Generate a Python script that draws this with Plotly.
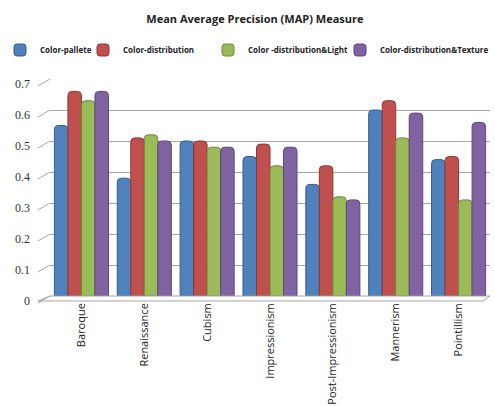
import plotly.graph_objects as go

categories = ["Baroque", "Renaissance", "Cubism", "Impressionism",
              "Post-Impressionism", "Mannerism", "Pointillism"]
color_pallete = [0.55, 0.38, 0.50, 0.45, 0.36, 0.60, 0.44]
color_distribution = [0.66, 0.51, 0.50, 0.49, 0.42, 0.63, 0.45]
color_dist_light = [0.63, 0.52, 0.48, 0.42, 0.32, 0.51, 0.31]
color_dist_texture = [0.66, 0.50, 0.48, 0.48, 0.31, 0.59, 0.56]
y_ticks = [0, 0.1, 0.2, 0.3, 0.4, 0.5, 0.6, 0.7]

series = [
    ("Color-pallete", color_pallete, "#4F81BD", "#385D8A"),
    ("Color-distribution", color_distribution, "#C0504D", "#8C3836"),
    ("Color -distribution&Light", color_dist_light, "#9BBB59", "#71893F"),
    ("Color-distribution&Texture", color_dist_texture, "#8064A2", "#5C4776"),
]
legend_ids = ["legend", "legend2", "legend3", "legend4"]
legend_x = [-14, 83, 208, 340]  # left edge of each legend entry, px

W, H = 495, 406
fig = go.Figure()
for (name, vals, col, edge), lid in zip(series, legend_ids):
    fig.add_trace(go.Bar(
        name=name, x=categories, y=vals, legend=lid,
        marker=dict(color=col, line=dict(color=edge, width=1), cornerradius=4),
    ))

legend_style = dict(orientation="h", xref="container", yref="container",
                    xanchor="left", yanchor="middle",
                    font=dict(family="Open Sans", size=8, color="#222", weight="bold"),
                    itemwidth=30, bgcolor="rgba(0,0,0,0)")
legends = {}
for lid, lx in zip(legend_ids, legend_x):
    legends[lid] = dict(legend_style, x=lx / W, y=1 - 50 / H)

ymax = 0.7
plot_h = 217.3
# slanted wall edges joining each tick label to its gridline
shapes = []
for v in y_ticks:
    yb = v / ymax
    shapes.append(dict(type="line", xref="paper", yref="paper",
                       x0=-12 / 440, y0=yb - 7 / plot_h, x1=0, y1=yb,
                       line=dict(color="#A6A6A6", width=1)))
# floor of the chart
shapes.append(dict(type="path", xref="paper", yref="paper",
                   path=f"M {-12/440},{-5/plot_h} L {433/440},{-5/plot_h} L 1,0 L 0,0 Z",
                   fillcolor="rgba(0,0,0,0)",
                   line=dict(color="#A6A6A6", width=1)))

fig.update_layout(
    width=W, height=H,
    margin=dict(l=50, r=5, t=79, b=109.7, autoexpand=False),
    paper_bgcolor="white", plot_bgcolor="white",
    barmode="group", bargap=0.14, bargroupgap=0,
    title=dict(text="<b>Mean Average Precision (MAP) Measure</b>",
               x=0.515, xanchor="center", y=1 - 19 / H, yanchor="middle",
               font=dict(family="Open Sans", size=11, color="#222")),
    shapes=shapes,
    showlegend=True,
    **legends,
)
fig.update_yaxes(range=[0, ymax], tickvals=y_ticks,
                 ticktext=[f"{v:g}" for v in y_ticks],
                 showgrid=True, gridcolor="#A6A6A6", gridwidth=1,
                 zeroline=False, showline=False,
                 ticklabelshift=5, ticklabelstandoff=19,
                 tickfont=dict(family="Liberation Serif", size=12, color="#333"))
fig.update_xaxes(tickangle=-90, showline=False, showgrid=False,
                 ticklabelstandoff=4,
                 tickfont=dict(family="Open Sans", size=11, color="#222"))

fig.write_html("out.html")
